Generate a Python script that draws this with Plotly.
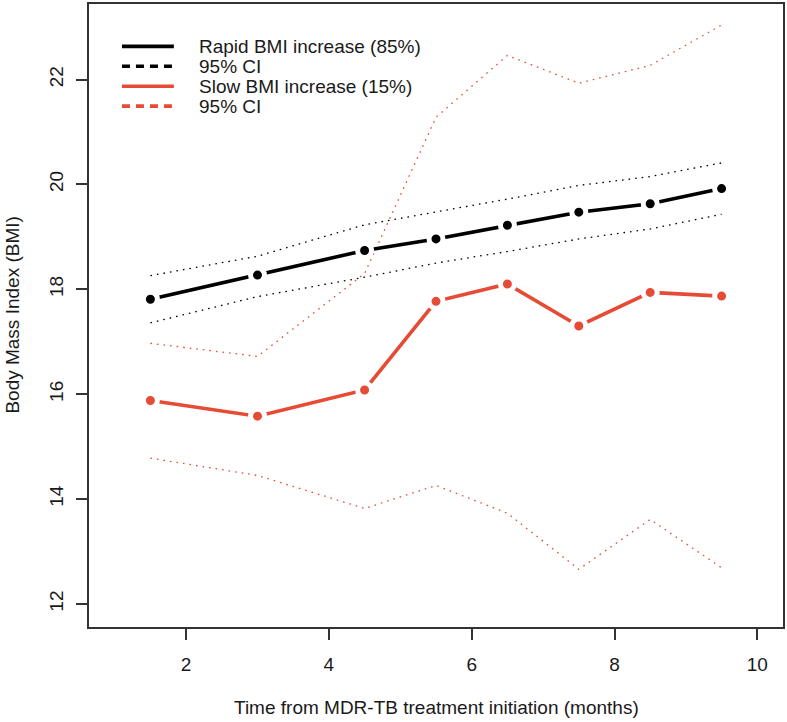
import plotly.graph_objects as go

# ---- data ----
months = [1.5, 3, 4.5, 5.5, 6.5, 7.5, 8.5, 9.5]
rapid_bmi = [17.81, 18.27, 18.74, 18.96, 19.22, 19.47, 19.63, 19.92]
rapid_lo = [17.36, 17.86, 18.23, 18.50, 18.72, 18.96, 19.15, 19.43]
rapid_hi = [18.26, 18.63, 19.23, 19.47, 19.72, 19.98, 20.15, 20.41]
slow_bmi = [15.88, 15.58, 16.08, 17.77, 18.10, 17.30, 17.94, 17.87]
slow_lo = [14.78, 14.45, 13.82, 14.26, 13.73, 12.66, 13.61, 12.69]
slow_hi = [16.97, 16.72, 18.30, 21.28, 22.46, 21.93, 22.27, 23.04]

x_ticks = [2, 4, 6, 8, 10]
y_ticks = [12, 14, 16, 18, 20, 22]

legend_labels = ["Rapid BMI increase (85%)", "95% CI", "Slow BMI increase (15%)", "95% CI"]

BLACK = "#000000"
RED = "#E64B35"
FONT = "Liberation Sans, Arial, sans-serif"
TXT = "#1a1a1a"

fig = go.Figure()

dot = "1.6px,5px"
for ys, col in [(rapid_lo, BLACK), (rapid_hi, BLACK), (slow_lo, RED), (slow_hi, RED)]:
    fig.add_trace(go.Scatter(x=months, y=ys, mode="lines",
                             line=dict(color=col, width=1.3, dash=dot),
                             showlegend=False, hoverinfo="skip"))

for ys, col in [(rapid_bmi, BLACK), (slow_bmi, RED)]:
    fig.add_trace(go.Scatter(x=months, y=ys, mode="lines+markers",
                             line=dict(color=col, width=3.6),
                             marker=dict(color=col, size=14, line=dict(color="white", width=5)),
                             showlegend=False))

# ---- manual legend (R-style) ----
L, R_ = 89.0, 784.0
T, B = 2.0, 627.0
def px(xp):
    return (xp - L) / (R_ - L)
def py(yp):
    return 1 - (yp - T) / (B - T)

rows_y = [44.5, 64.5, 84.5, 104.5]
styles = [(BLACK, None), (BLACK, "8px,6px"), (RED, None), (RED, "8px,6px")]
for yy, (col, dsh), lab in zip(rows_y, styles, legend_labels):
    ln = dict(color=col, width=3.6)
    if dsh:
        ln["dash"] = dsh
    fig.add_shape(type="line", xref="paper", yref="paper",
                  x0=px(122), x1=px(174), y0=py(yy), y1=py(yy), line=ln)
    fig.add_annotation(xref="paper", yref="paper", x=px(197), y=py(yy),
                       text=lab, showarrow=False, xanchor="left", yanchor="middle",
                       font=dict(family=FONT, size=19, color=TXT))

# axis titles
fig.add_annotation(xref="paper", yref="paper", x=0.5, y=py(708),
                   text="Time from MDR-TB treatment initiation (months)", showarrow=False,
                   xanchor="center", yanchor="middle",
                   font=dict(family=FONT, size=19, color=TXT))
fig.add_annotation(xref="paper", yref="paper", x=px(12), y=0.5,
                   text="Body Mass Index (BMI)", showarrow=False, textangle=-90,
                   xanchor="center", yanchor="middle",
                   font=dict(family=FONT, size=19, color=TXT))

axis_common = dict(showgrid=False, zeroline=False, showline=True, mirror=True,
                   linecolor="#333333", linewidth=1.5, ticks="outside", ticklen=11,
                   tickcolor="#333333", tickwidth=1.5,
                   tickfont=dict(family=FONT, size=19, color=TXT))

fig.update_layout(
    width=787, height=722,
    margin=dict(l=89, r=3, t=2, b=95),
    paper_bgcolor="white", plot_bgcolor="white",
    xaxis=dict(range=[0.64, 10.36], tickvals=x_ticks, ticklabelstandoff=8, **axis_common),
    yaxis=dict(range=[11.56, 23.44], tickvals=y_ticks, tickangle=-90, ticklabelstandoff=6, **axis_common),
    showlegend=False,
)

fig.write_html("out.html", config={"displayModeBar": False},
               post_script="document.body.style.margin='0';document.body.style.overflow='hidden';")
